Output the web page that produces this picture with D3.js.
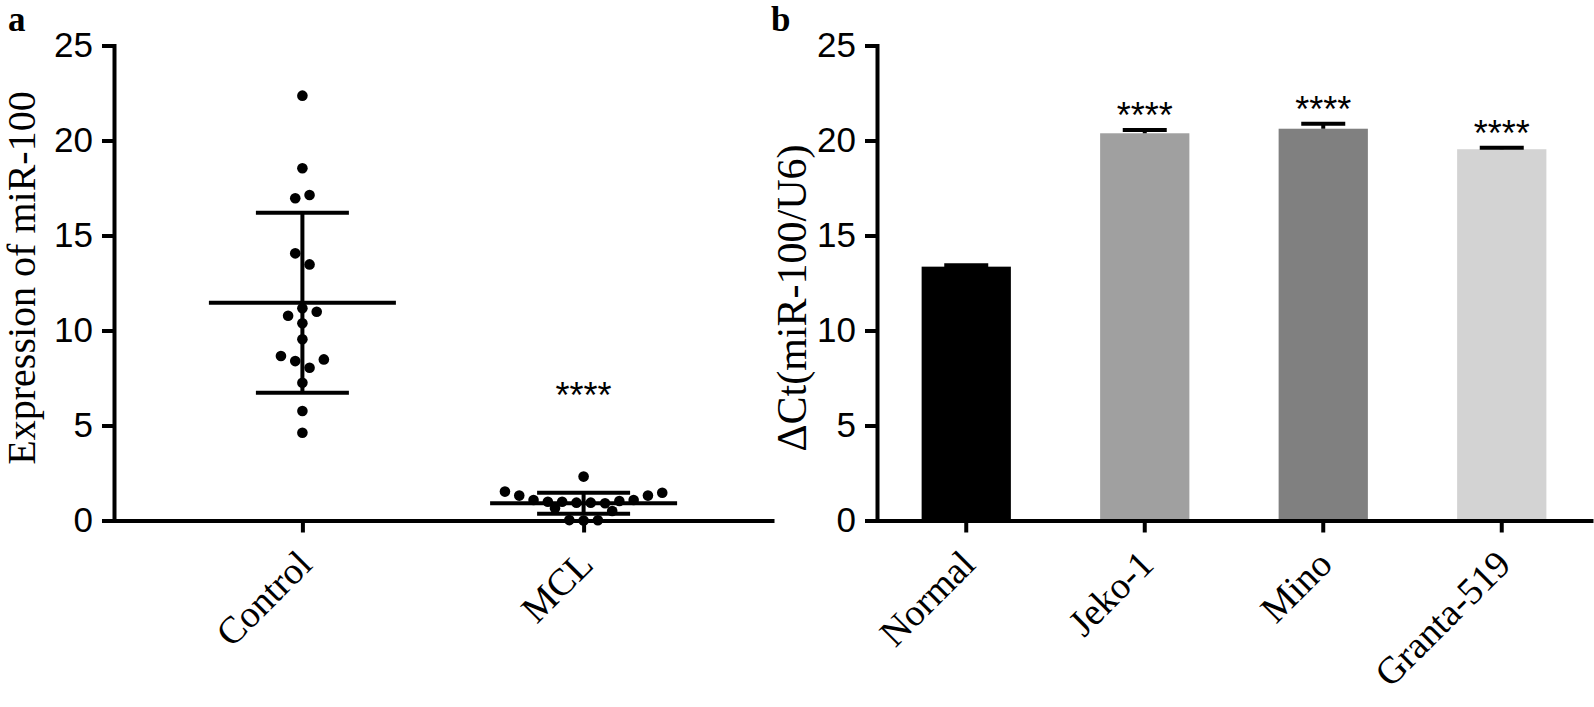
<!DOCTYPE html>
<html>
<head>
<meta charset="utf-8">
<script src="https://cdn.jsdelivr.net/npm/d3@7"></script>
<style>
  body { margin: 0; background: #fff; }
  svg { display: block; }
  .axis path, .axis line { stroke: #000; stroke-width: 4; }
  .axis path { stroke-linecap: square; }
  .ytick text { font-family: "Liberation Sans", Arial, sans-serif; font-size: 35px; fill: #000; }
  .xtick text { font-family: "Liberation Serif", "Times New Roman", serif; font-size: 38px; fill: #000; }
  .title { font-family: "Liberation Serif", "Times New Roman", serif; fill: #000; }
  .stars { font-family: "Liberation Sans", Arial, sans-serif; font-size: 36px; fill: #000; }
</style>
</head>
<body>
<div id="chart"></div>
<script>
// --- panel a data (scatter, mean +/- SD) ---
const groupsA = ["Control", "MCL"];
const controlVals = [22.36, 18.54, 16.96, 17.13, 14.06, 13.48, 10.78, 11.17, 10.99, 10.38,
                     9.54, 8.66, 8.39, 8.04, 8.48, 7.25, 5.76, 4.62];
const mclVals = [2.31, 1.52, 1.31, 1.08, 0.99, 0.99, 0.94, 0.94, 0.91, 1.03, 1.08, 1.31, 1.46,
                 0.64, 0.02, 0, 0.01, 0.5];
const meansA = [11.46, 0.905];
const sdsA = [4.74, 0.555];
const sigA = ["", "****"];

// --- panel b data (bars, mean + SEM) ---
const cellLines = ["Normal", "Jeko-1", "Mino", "Granta-519"];
const deltaCt = [13.36, 20.38, 20.62, 19.54];
const deltaCtErr = [0.07, 0.17, 0.26, 0.08];
const sigB = ["", "****", "****", "****"];

const yTicks = [0, 5, 10, 15, 20, 25];

const W = 1594, H = 707;
const svg = d3.select("#chart").append("svg").attr("width", W).attr("height", H);

// shared vertical scale (both panels line up)
const y = d3.scaleLinear().domain([0, 25]).range([520.5, 45.5]);

// GraphPad-like scatter: rows of close values, spread symmetrically
function swarm(values, rowTol, spacing) {
    const order = d3.range(values.length).sort((a, b) => values[b] - values[a]);
    const rowOf = [];
    let row = -1, rowTop = Infinity;
    order.forEach(i => {
        if (rowTop - values[i] > rowTol) { row++; rowTop = values[i]; }
        rowOf[i] = row;
    });
    const pts = [];
    d3.groups(d3.range(values.length), i => rowOf[i]).forEach(([r, idx]) => {
        idx.forEach((i, k) => pts.push({ v: values[i], dx: (k - (idx.length - 1) / 2) * spacing }));
    });
    return pts;
}

function yAxis(g, x0) {
    g.attr("class", "axis ytick")
        .attr("transform", `translate(${x0},0)`)
        .call(d3.axisLeft(y).tickValues(yTicks).tickSize(12).tickSizeOuter(0).tickPadding(9));
}

function xAxis(g, scale) {
    g.attr("class", "axis xtick")
        .attr("transform", `translate(0,${y(0)})`)
        .call(d3.axisBottom(scale).tickSize(12).tickSizeOuter(0));
    g.selectAll(".tick text")
        .attr("x", 0).attr("y", 0).attr("dy", 0)
        .attr("text-anchor", "end")
        .attr("transform", "translate(11,46) rotate(-45)");
}

// ================= PANEL A =================
const xA = d3.scalePoint().domain(groupsA).range([114, 772]).padding(0.67);
const gA = svg.append("g");

xAxis(gA.append("g"), xA);
yAxis(gA.append("g"), 114);

const seriesA = [controlVals, mclVals];
groupsA.forEach((grp, gi) => {
    const cx = xA(grp);
    const pts = swarm(seriesA[gi], 0.7, 14.3);
    const m = meansA[gi], s = sdsA[gi];

    // SD whisker
    gA.append("line")
        .attr("x1", cx).attr("x2", cx)
        .attr("y1", y(m - s)).attr("y2", y(m + s))
        .attr("stroke", "#000").attr("stroke-width", 4);
    [m - s, m + s].forEach(v => {
        gA.append("line")
            .attr("x1", cx - 46.5).attr("x2", cx + 46.5)
            .attr("y1", y(v)).attr("y2", y(v))
            .attr("stroke", "#000").attr("stroke-width", 4);
    });
    // mean line
    gA.append("line")
        .attr("x1", cx - 93.5).attr("x2", cx + 93.5)
        .attr("y1", y(m)).attr("y2", y(m))
        .attr("stroke", "#000").attr("stroke-width", 4);

    gA.selectAll(null)
        .data(pts)
        .enter().append("circle")
        .attr("cx", d => cx + d.dx)
        .attr("cy", d => y(d.v))
        .attr("r", 5.3)
        .attr("fill", "#000");

    if (sigA[gi]) {
        gA.append("text").attr("class", "stars")
            .attr("x", cx).attr("y", y(5.9))
            .attr("text-anchor", "middle")
            .text(sigA[gi]);
    }
});

// y title a
gA.append("text").attr("class", "title")
    .attr("transform", "translate(35,278) rotate(-90)")
    .attr("text-anchor", "middle")
    .style("font-size", "40px")
    .text("Expression of miR-100");

// panel letter
svg.append("text").attr("class", "title")
    .attr("x", 8).attr("y", 31)
    .style("font-size", "35px").style("font-weight", "bold")
    .text("a");

// ================= PANEL B =================
const xB = d3.scaleBand().domain(cellLines).range([877, 1591]).paddingInner(0.5).paddingOuter(0.25);
const barColor = d3.scaleOrdinal().domain(cellLines).range(["#000000", "#a0a0a0", "#808080", "#d3d3d3"]);
const gB = svg.append("g");

const bars = cellLines.map((c, i) => ({ name: c, v: deltaCt[i], e: deltaCtErr[i], sig: sigB[i] }));

gB.selectAll("rect")
    .data(bars)
    .enter().append("rect")
    .attr("x", d => xB(d.name))
    .attr("width", xB.bandwidth())
    .attr("y", d => y(d.v))
    .attr("height", d => y(0) - y(d.v))
    .attr("fill", d => barColor(d.name));

// error bars (upper only)
gB.selectAll(".stem")
    .data(bars)
    .enter().append("line")
    .attr("x1", d => xB(d.name) + xB.bandwidth() / 2)
    .attr("x2", d => xB(d.name) + xB.bandwidth() / 2)
    .attr("y1", d => y(d.v)).attr("y2", d => y(d.v + d.e))
    .attr("stroke", "#000").attr("stroke-width", 4);

gB.selectAll(".cap")
    .data(bars)
    .enter().append("line")
    .attr("x1", d => xB(d.name) + xB.bandwidth() / 2 - 22)
    .attr("x2", d => xB(d.name) + xB.bandwidth() / 2 + 22)
    .attr("y1", d => y(d.v + d.e)).attr("y2", d => y(d.v + d.e))
    .attr("stroke", "#000").attr("stroke-width", 4);

gB.selectAll(".stars")
    .data(bars.filter(d => d.sig))
    .enter().append("text")
    .attr("class", "stars")
    .attr("x", d => xB(d.name) + xB.bandwidth() / 2)
    .attr("y", d => y(d.v + d.e) - 2)
    .attr("text-anchor", "middle")
    .text(d => d.sig);

xAxis(gB.append("g"), xB);
yAxis(gB.append("g"), 877);

gB.append("text").attr("class", "title")
    .attr("transform", "translate(806,298) rotate(-90)")
    .attr("text-anchor", "middle")
    .style("font-size", "42px")
    .text("ΔCt(miR-100/U6)");

svg.append("text").attr("class", "title")
    .attr("x", 771).attr("y", 31)
    .style("font-size", "35px").style("font-weight", "bold")
    .text("b");
</script>
</body>
</html>
